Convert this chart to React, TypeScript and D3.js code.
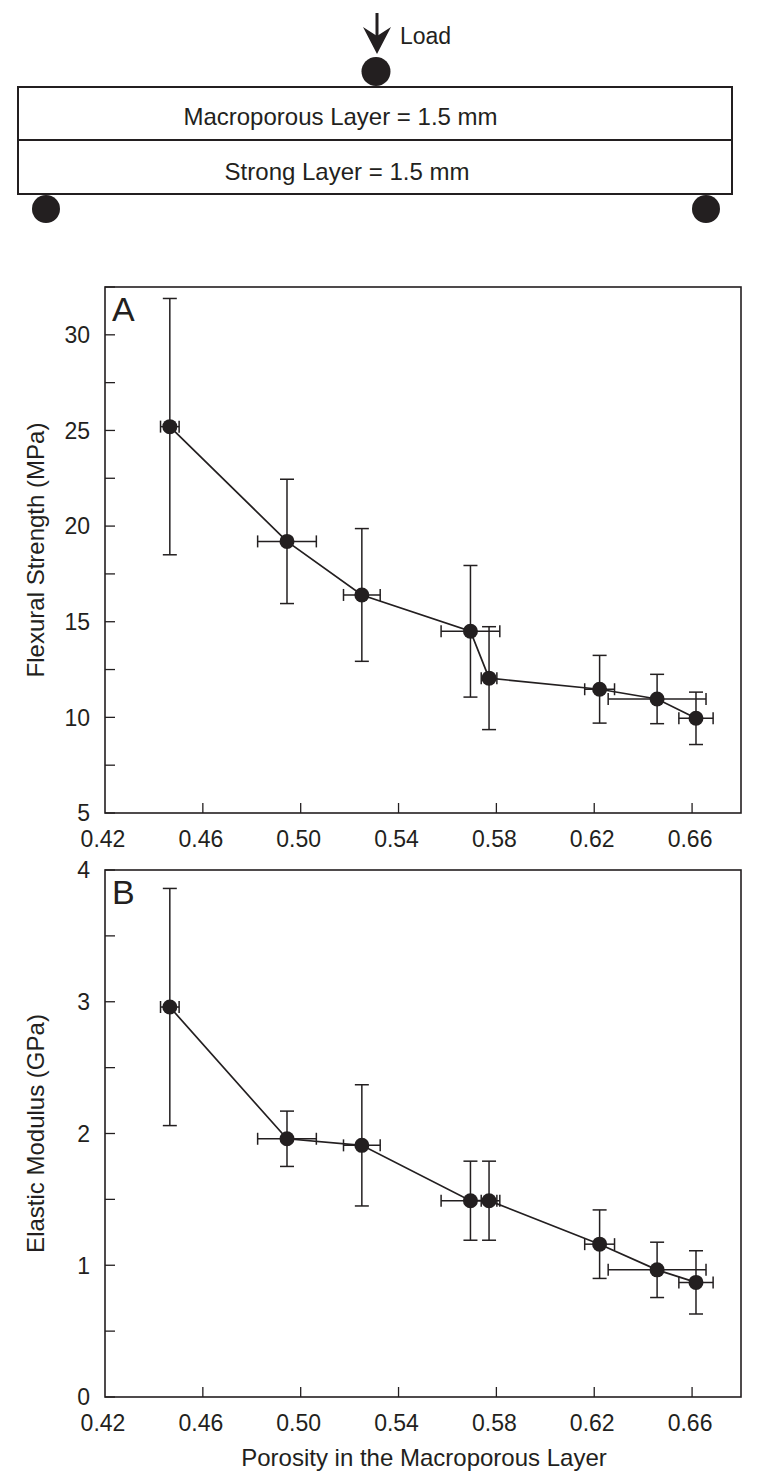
import React from "react";
import * as d3 from "d3";

// ---- data ----
const porosity = [0.4465, 0.4944, 0.525, 0.5694, 0.577, 0.6222, 0.6457, 0.6616];
const porosityErr = [0.0038, 0.012, 0.0075, 0.012, 0.0032, 0.0061, 0.02, 0.007];
const strength = [25.2, 19.2, 16.4, 14.5, 12.05, 11.47, 10.96, 9.95];
const strengthErr = [6.7, 3.25, 3.47, 3.44, 2.69, 1.77, 1.29, 1.37];
const modulus = [2.96, 1.96, 1.91, 1.49, 1.49, 1.16, 0.965, 0.87];
const modulusErr = [0.9, 0.21, 0.46, 0.3, 0.3, 0.26, 0.21, 0.24];
const xTickLabels = [0.42, 0.46, 0.5, 0.54, 0.58, 0.62, 0.66];
const strengthTicks = [5, 10, 15, 20, 25, 30];
const modulusTicks = [0, 1, 2, 3, 4];
const xLabel = "Porosity in the Macroporous Layer";
const yLabelA = "Flexural Strength (MPa)";
const yLabelB = "Elastic Modulus (GPa)";

const INK = "#231f20";
const FONT = "'Liberation Sans', Arial, Helvetica, sans-serif";

type PanelProps = {
  top: number;
  bottom: number;
  yDomain: [number, number];
  minorStep: number;
  majorTicks: number[];
  values: number[];
  errs: number[];
  letter: string;
  yLabel: string;
  showXLabel: boolean;
};

const LEFT = 105;
const RIGHT = 741;

function Panel(p: PanelProps) {
  const x = d3.scaleLinear().domain([0.42, 0.68]).range([LEFT, RIGHT]);
  const y = d3.scaleLinear().domain(p.yDomain).range([p.bottom, p.top]);
  const minor = d3.range(p.yDomain[0], p.yDomain[1] + 1e-9, p.minorStep);
  const line = d3
    .line<number>()
    .x((_, i) => x(porosity[i]))
    .y((v) => y(v));
  const tl = 10;
  const cap = 7;
  return (
    <g>
      <rect x={LEFT} y={p.top} width={RIGHT - LEFT} height={p.bottom - p.top} fill="none" stroke={INK} strokeWidth={1.6} />
      {minor.map((v) => (
        <line key={"ym" + v} x1={LEFT} x2={LEFT + tl} y1={y(v)} y2={y(v)} stroke={INK} strokeWidth={1.3} />
      ))}
      {p.majorTicks.map((v) => (
        <text key={"yl" + v} x={LEFT - 15} y={y(v)} dy="0.36em" textAnchor="end" fontSize={23} fontFamily={FONT} fill={INK}>
          {v}
        </text>
      ))}
      {xTickLabels.map((v) => (
        <g key={"xt" + v}>
          {v > 0.42 && <line x1={x(v)} x2={x(v)} y1={p.bottom} y2={p.bottom - tl} stroke={INK} strokeWidth={1.3} />}
          <text x={x(v) - 2} y={p.bottom + 34} textAnchor="middle" fontSize={23} fontFamily={FONT} fill={INK}>
            {d3.format(".2f")(v)}
          </text>
        </g>
      ))}
      <text x={LEFT + 7} y={p.top + 34} fontSize={34} fontFamily={FONT} fill={INK}>
        {p.letter}
      </text>
      <text
        transform={`translate(${36},${(p.top + p.bottom) / 2}) rotate(-90)`}
        textAnchor="middle"
        dy="0.35em"
        fontSize={24}
        fontFamily={FONT}
        fill={INK}
      >
        {p.yLabel}
      </text>
      {p.showXLabel && (
        <text x={424} y={p.bottom + 69} textAnchor="middle" fontSize={24} fontFamily={FONT} fill={INK}>
          {xLabel}
        </text>
      )}
      <path d={line(p.values) || ""} fill="none" stroke={INK} strokeWidth={1.7} />
      {p.values.map((v, i) => {
        const cx = x(porosity[i]);
        const cy = y(v);
        const y1 = y(v + p.errs[i]);
        const y2 = y(v - p.errs[i]);
        const x1 = x(porosity[i] - porosityErr[i]);
        const x2 = x(porosity[i] + porosityErr[i]);
        return (
          <g key={"pt" + i} stroke={INK} strokeWidth={1.5}>
            <line x1={cx} x2={cx} y1={y1} y2={y2} />
            <line x1={cx - cap} x2={cx + cap} y1={y1} y2={y1} />
            <line x1={cx - cap} x2={cx + cap} y1={y2} y2={y2} />
            <line x1={x1} x2={x2} y1={cy} y2={cy} />
            <line x1={x1} x2={x1} y1={cy - 6} y2={cy + 6} />
            <line x1={x2} x2={x2} y1={cy - 6} y2={cy + 6} />
            <circle cx={cx} cy={cy} r={7.5} fill={INK} stroke="none" />
          </g>
        );
      })}
    </g>
  );
}

function Diagram() {
  return (
    <g>
      <line x1={377} x2={377} y1={13} y2={38} stroke={INK} strokeWidth={3} />
      <polygon points="363,27 377,36 391,27 377,54" fill={INK} />
      <text x={400} y={44} fontSize={23} fontFamily={FONT} fill={INK}>
        Load
      </text>
      <circle cx={376} cy={71.5} r={14.5} fill={INK} />
      <rect x={18} y={87} width={714} height={107} fill="white" stroke={INK} strokeWidth={2} />
      <line x1={18} x2={732} y1={140} y2={140} stroke={INK} strokeWidth={2} />
      <text x={340.5} y={125} textAnchor="middle" fontSize={24} fontFamily={FONT} fill={INK}>
        Macroporous Layer = 1.5 mm
      </text>
      <text x={347} y={180} textAnchor="middle" fontSize={24} fontFamily={FONT} fill={INK}>
        Strong Layer = 1.5 mm
      </text>
      <circle cx={46} cy={209} r={14} fill={INK} />
      <circle cx={706} cy={209} r={14} fill={INK} />
    </g>
  );
}

export default function App() {
  return (
    <svg
      width={762}
      height={1481}
      style={{ position: "absolute", left: 0, top: 0, background: "white" }}
    >
      <rect x={0} y={0} width={762} height={1481} fill="white" />
      <Diagram />
      <Panel
        top={287}
        bottom={813}
        yDomain={[5, 32.5]}
        minorStep={2.5}
        majorTicks={strengthTicks}
        values={strength}
        errs={strengthErr}
        letter="A"
        yLabel={yLabelA}
        showXLabel={false}
      />
      <Panel
        top={870}
        bottom={1397}
        yDomain={[0, 4]}
        minorStep={0.5}
        majorTicks={modulusTicks}
        values={modulus}
        errs={modulusErr}
        letter="B"
        yLabel={yLabelB}
        showXLabel={true}
      />
    </svg>
  );
}
